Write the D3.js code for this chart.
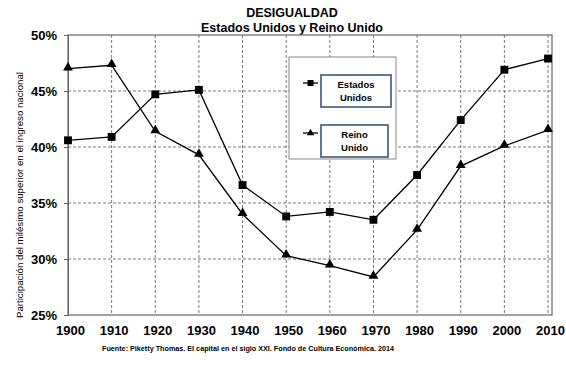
<!DOCTYPE html>
<html>
<head>
<meta charset="utf-8">
<script src="https://cdn.jsdelivr.net/npm/d3@7"></script>
<style>
body { margin: 0; background: #fff; }
svg { font-family: "Liberation Sans", Arial, sans-serif; }
</style>
</head>
<body>
<div id="chart"></div>
<script>
// données
var years = [1900, 1910, 1920, 1930, 1940, 1950, 1960, 1970, 1980, 1990, 2000, 2010];
var estadosUnidos = [40.6, 40.9, 44.7, 45.1, 36.6, 33.8, 34.2, 33.5, 37.5, 42.4, 46.9, 47.9];
var reinoUnido = [47.0, 47.3, 41.4, 39.3, 34.0, 30.3, 29.4, 28.4, 32.6, 38.3, 40.1, 41.5];
var yTicks = [25, 30, 35, 40, 45, 50];
var seriesNames = ["Estados Unidos", "Reino Unido"];

var width = 566, height = 370;
var margin = {top: 35, right: 18, bottom: 55, left: 68};

var svg = d3.select("#chart").append("svg")
    .attr("width", width)
    .attr("height", height);

var x = d3.scaleLinear().domain([1900, 2010]).range([margin.left, 548]);
var y = d3.scaleLinear().domain([25, 50]).range([height - margin.bottom, margin.top]);

// titres
svg.append("text")
    .attr("x", 292).attr("y", 17)
    .attr("text-anchor", "middle")
    .style("font-weight", "bold").style("font-size", "12.5px")
    .text("DESIGUALDAD");
svg.append("text")
    .attr("x", 292).attr("y", 32)
    .attr("text-anchor", "middle")
    .style("font-weight", "bold").style("font-size", "12.5px")
    .text("Estados Unidos y Reino Unido");

// grille pointillée
svg.append("g").selectAll("line")
    .data(years.slice(1))
    .enter().append("line")
    .attr("x1", function(d) { return x(d); })
    .attr("x2", function(d) { return x(d); })
    .attr("y1", y(50)).attr("y2", y(25))
    .attr("stroke", "#777").attr("stroke-width", 1)
    .attr("stroke-dasharray", "3,2");
svg.append("g").selectAll("line")
    .data(yTicks.slice(1, -1))
    .enter().append("line")
    .attr("x1", x(1900)).attr("x2", x(2010) + 4)
    .attr("y1", function(d) { return y(d); })
    .attr("y2", function(d) { return y(d); })
    .attr("stroke", "#777").attr("stroke-width", 1)
    .attr("stroke-dasharray", "3,2");

// cadre
svg.append("rect")
    .attr("x", x(1900)).attr("y", y(50))
    .attr("width", x(2010) + 4 - x(1900))
    .attr("height", y(25) - y(50))
    .attr("fill", "none")
    .attr("stroke", "#666").attr("stroke-width", 1.2);

// axe des ordonnées
var yAxis = svg.append("g")
    .attr("transform", "translate(" + x(1900) + ",0)")
    .call(d3.axisLeft(y).tickValues(yTicks).tickSize(4)
        .tickFormat(function(d) { return d + "%"; }));
yAxis.select(".domain").attr("stroke", "#666");
yAxis.selectAll(".tick line").attr("stroke", "#666");
yAxis.selectAll("text")
    .attr("x", -11).attr("dy", "0.35em")
    .style("font-size", "13px").style("font-weight", "bold")
    .style("font-family", "Liberation Sans, Arial, sans-serif")
    .attr("fill", "#000");

// axe des abscisses
var xAxis = svg.append("g")
    .attr("transform", "translate(0," + y(25) + ")")
    .call(d3.axisBottom(x).tickValues(years).tickSize(0)
        .tickFormat(d3.format("d")));
xAxis.select(".domain").remove();
xAxis.selectAll("text")
    .attr("y", 11).attr("dx", 2)
    .style("font-size", "13px").style("font-weight", "bold")
    .style("font-family", "Liberation Sans, Arial, sans-serif")
    .attr("fill", "#000");

// titre de l'axe des ordonnées
svg.append("text")
    .attr("transform", "translate(23," + ((y(25) + y(50)) / 2 + 20) + ") rotate(-90)")
    .attr("text-anchor", "middle")
    .attr("textLength", 246).attr("lengthAdjust", "spacingAndGlyphs")
    .style("font-size", "9px")
    .text("Participación del milésimo superior en el ingreso nacional");

// source
svg.append("text")
    .attr("x", 102).attr("y", 351)
    .attr("textLength", 292).attr("lengthAdjust", "spacingAndGlyphs")
    .style("font-size", "8px").style("font-weight", "bold")
    .text("Fuente: Piketty Thomas. El capital en el siglo XXI. Fondo de Cultura Económica. 2014");

// courbes
var line = d3.line()
    .x(function(d, i) { return x(years[i]); })
    .y(function(d) { return y(d); });

[estadosUnidos, reinoUnido].forEach(function(serie) {
    svg.append("path")
        .datum(serie)
        .attr("d", line)
        .attr("fill", "none")
        .attr("stroke", "#000")
        .attr("stroke-width", 1.3);
});

var square = d3.symbol().type(d3.symbolSquare).size(62);
var triangle = d3.symbol().type(d3.symbolTriangle).size(42);

svg.append("g").selectAll("path")
    .data(estadosUnidos)
    .enter().append("path")
    .attr("d", square)
    .attr("transform", function(d, i) { return "translate(" + x(years[i]) + "," + y(d) + ")"; })
    .attr("fill", "#000");

svg.append("g").selectAll("path")
    .data(reinoUnido)
    .enter().append("path")
    .attr("d", triangle)
    .attr("transform", function(d, i) { return "translate(" + x(years[i]) + "," + (y(d) - 1) + ")"; })
    .attr("fill", "#000");

// légende
var legend = svg.append("g").attr("transform", "translate(289,57)");
legend.append("rect")
    .attr("width", 107).attr("height", 102)
    .attr("fill", "#fff")
    .attr("stroke", "#888").attr("stroke-width", 1);

var items = legend.selectAll(".item")
    .data(seriesNames)
    .enter().append("g")
    .attr("class", "item")
    .attr("transform", function(d, i) { return "translate(0," + (i * 50) + ")"; });

items.append("line")
    .attr("x1", 14).attr("x2", 29)
    .attr("y1", 26).attr("y2", 26)
    .attr("stroke", "#000").attr("stroke-width", 1.3);
items.append("path")
    .attr("d", function(d, i) { return i == 0 ? d3.symbol().type(d3.symbolSquare).size(36)() : d3.symbol().type(d3.symbolTriangle).size(24)(); })
    .attr("transform", "translate(21.5,26)")
    .attr("fill", "#000");
items.append("rect")
    .attr("x", 32).attr("y", 18)
    .attr("width", function(d, i) { return i == 0 ? 70 : 67; })
    .attr("height", 32)
    .attr("fill", "#fff")
    .attr("stroke", "#4f6b8c").attr("stroke-width", 1.8);
items.each(function(d, i) {
    var words = d.split(" ");
    var t = d3.select(this).append("text")
        .attr("text-anchor", "middle")
        .style("font-size", "9.5px").style("font-weight", "bold");
    words.forEach(function(w, k) {
        t.append("tspan")
            .attr("x", i == 0 ? 67 : 65.5)
            .attr("y", 31 + k * 13)
            .text(w);
    });
});
</script>
</body>
</html>
